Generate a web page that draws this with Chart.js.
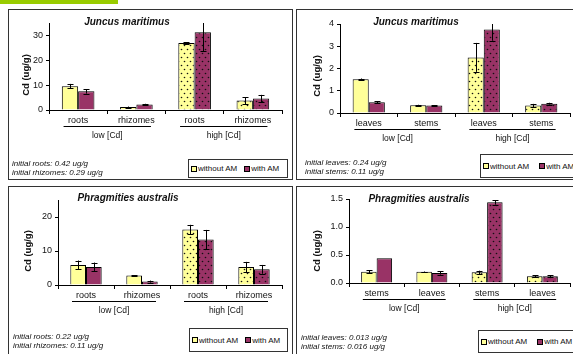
<!DOCTYPE html>
<html>
<head>
<meta charset="utf-8">
<script src="https://cdn.jsdelivr.net/npm/chart.js@4.4.0/dist/chart.umd.min.js"></script>
<style>
  body { margin: 0; width: 573px; height: 354px; overflow: hidden; background: #fff; position: relative;
         font-family: "Liberation Sans", Arial, sans-serif; color: #111; }
  .green { position: absolute; left: 0; top: 0; width: 118px; height: 4px; background: #99cc00; }
  .frame { position: absolute; box-sizing: border-box; border: 1px solid #333; }
  canvas { position: absolute; left: 0; top: 0; }
  .t { position: absolute; white-space: nowrap; transform: translate(-50%, -50%); }
  .title { font: bold italic 10px "Liberation Sans", Arial, sans-serif; }
  .ytitle { font: bold 9.5px "Liberation Sans", Arial, sans-serif; transform: translate(-50%, -50%) rotate(-90deg); }
  .note { position: absolute; font: italic 8px "Liberation Sans", Arial, sans-serif; line-height: 9px; white-space: nowrap; }
  .legend { position: absolute; box-sizing: border-box; border: 1px solid #333; background: #fff;
            font: 8px "Liberation Sans", Arial, sans-serif; display: flex; align-items: center; white-space: nowrap; }
  .sw { display: inline-block; width: 4px; height: 4px; border: 1px solid #000; margin-right: 1px; }
</style>
</head>
<body>
<div class="green"></div>
<div class="frame" style="left:8px;top:9px;width:285px;height:171px"></div>
<div class="frame" style="left:296px;top:9px;width:290px;height:171px"></div>
<div class="frame" style="left:8px;top:186px;width:285px;height:200px"></div>
<div class="frame" style="left:296px;top:186px;width:290px;height:200px"></div>

<canvas id="c1" width="573" height="354"></canvas>
<canvas id="c2" width="573" height="354"></canvas>
<canvas id="c3" width="573" height="354"></canvas>
<canvas id="c4" width="573" height="354"></canvas>

<div class="t title" style="left:127px;top:21px">Juncus maritimus</div>
<div class="t title" style="left:416px;top:21px">Juncus maritimus</div>
<div class="t title" style="left:128px;top:197px">Phragmities australis</div>
<div class="t title" style="left:419px;top:198px">Phragmities australis</div>

<div class="t ytitle" style="left:25px;top:75px">Cd (ug/g)</div>
<div class="t ytitle" style="left:316px;top:76px">Cd (ug/g)</div>
<div class="t ytitle" style="left:27px;top:251px">Cd (ug/g)</div>
<div class="t ytitle" style="left:316px;top:251px">Cd (ug/g)</div>

<div class="note" style="left:12px;top:159px">initial roots: 0.42 ug/g<br>initial rhizomes: 0.29 ug/g</div>
<div class="note" style="left:305px;top:158px">initial leaves: 0.24 ug/g<br>initial stems: 0.11 ug/g</div>
<div class="note" style="left:13px;top:332px">initial roots: 0.22 ug/g<br>initial rhizomes: 0.11 ug/g</div>
<div class="note" style="left:301px;top:333px">initial leaves: 0.013 ug/g<br>initial stems: 0.016 ug/g</div>

<div class="legend" style="left:188px;top:159px;width:100px;height:19px;padding-left:2px">
  <span class="sw" style="background:#ffff99"></span>without AM
  <span class="sw" style="background:#993366;margin-left:7px"></span>with AM
</div>
<div class="legend" style="left:480px;top:154px;width:100px;height:24px;padding-left:2px">
  <span class="sw" style="background:#ffff99"></span>without AM
  <span class="sw" style="background:#993366;margin-left:10px"></span>with AM
</div>
<div class="legend" style="left:189px;top:328px;width:99px;height:24px;padding-left:2px">
  <span class="sw" style="background:#ffff99"></span>without AM
  <span class="sw" style="background:#993366;margin-left:7px"></span>with AM
</div>
<div class="legend" style="left:478px;top:330px;width:100px;height:23px;padding-left:2px">
  <span class="sw" style="background:#ffff99"></span>without AM
  <span class="sw" style="background:#993366;margin-left:10px"></span>with AM
</div>

<script>
// --- donnees ---
const groups = ['low [Cd]', 'high [Cd]'];

// Juncus maritimus, racines / rhizomes
const jmRootCats = ['roots', 'rhizomes', 'roots', 'rhizomes'];
const jmRootWithout = [9.6, 1.2, 27.0, 3.8];
const jmRootWithoutErr = [0.9, 0.2, 0.3, 1.4];
const jmRootWith = [7.5, 2.2, 31.3, 4.6];
const jmRootWithErr = [0.9, 0.3, 7.7, 1.5];
const jmRootTicks = [0, 10, 20, 30];
const jmRootMax = 35;

// Juncus maritimus, feuilles / tiges
const jmLeafCats = ['leaves', 'stems', 'leaves', 'stems'];
const jmLeafWithout = [1.52, 0.35, 2.5, 0.34];
const jmLeafWithoutErr = [0.03, 0.02, 0.65, 0.07];
const jmLeafWith = [0.48, 0.34, 3.75, 0.42];
const jmLeafWithErr = [0.05, 0.02, 0.5, 0.04];
const jmLeafTicks = [0, 1, 2, 3, 4];
const jmLeafMax = 4;

// Phragmities australis, racines / rhizomes
const paRootCats = ['roots', 'rhizomes', 'roots', 'rhizomes'];
const paRootWithout = [5.9, 2.8, 16.3, 5.3];
const paRootWithoutErr = [1.3, 0.1, 1.4, 1.5];
const paRootWith = [5.3, 1.0, 13.4, 4.6];
const paRootWithErr = [1.3, 0.3, 2.8, 1.3];
const paRootTicks = [0, 10, 20];
const paRootMax = 25;

// Phragmities australis, tiges / feuilles
const paLeafCats = ['stems', 'leaves', 'stems', 'leaves'];
const paLeafWithout = [0.2, 0.2, 0.19, 0.12];
const paLeafWithoutErr = [0.03, 0.005, 0.03, 0.02];
const paLeafWith = [0.44, 0.18, 1.44, 0.12];
const paLeafWithErr = [0, 0.03, 0.04, 0.02];
const paLeafTicks = [0, 0.5, 1, 1.5];
const paLeafMax = 1.5;

const YELLOW = '#ffff99';
const PURPLE = '#993366';
const W = 573, H = 354;
const Y_W = 30, X_H = 20;

Chart.defaults.font.family = "'Liberation Sans', Arial, sans-serif";
Chart.defaults.color = '#111';

function dotPattern(base) {
    const c = document.createElement('canvas');
    c.width = 6; c.height = 8;
    const g = c.getContext('2d');
    g.fillStyle = base;
    g.fillRect(0, 0, 6, 8);
    g.fillStyle = '#111';
    g.beginPath(); g.arc(1.5, 1.5, 0.8, 0, Math.PI * 2); g.fill();
    g.beginPath(); g.arc(4.5, 5.5, 0.8, 0, Math.PI * 2); g.fill();
    return g.createPattern(c, 'repeat');
}
const yellowDots = dotPattern(YELLOW);
const purpleDots = dotPattern(PURPLE);

// barres d'erreur + libelles de groupes
const extras = {
    id: 'extras',
    afterDatasetsDraw(chart) {
        const ctx = chart.ctx;
        const y = chart.scales.y;
        const top = chart.chartArea.top;
        ctx.save();
        ctx.strokeStyle = '#000';
        ctx.lineWidth = 1;
        chart.data.datasets.forEach((ds, i) => {
            const meta = chart.getDatasetMeta(i);
            meta.data.forEach((bar, j) => {
                const e = ds.err[j];
                if (!e) return;
                const x = Math.round(bar.x) + 0.5;
                let y1 = y.getPixelForValue(ds.data[j] + e);
                const y2 = y.getPixelForValue(ds.data[j] - e);
                const clipped = y1 < top;
                if (clipped) y1 = top;
                ctx.beginPath();
                ctx.moveTo(x, y1); ctx.lineTo(x, y2);
                if (!clipped) { ctx.moveTo(x - 3, Math.round(y1) + 0.5); ctx.lineTo(x + 3, Math.round(y1) + 0.5); }
                ctx.moveTo(x - 3, Math.round(y2) + 0.5); ctx.lineTo(x + 3, Math.round(y2) + 0.5);
                ctx.stroke();
            });
        });
        ctx.restore();
    },
    afterDraw(chart) {
        const ctx = chart.ctx;
        const x = chart.scales.x;
        const bottom = chart.chartArea.bottom;
        const w = x.getPixelForValue(1) - x.getPixelForValue(0);
        ctx.save();
        ctx.strokeStyle = '#000';
        ctx.fillStyle = '#111';
        ctx.lineWidth = 1;
        ctx.font = "8.5px 'Liberation Sans', Arial, sans-serif";
        ctx.textAlign = 'center';
        ctx.textBaseline = 'middle';
        groups.forEach((g, k) => {
            const a = x.getPixelForValue(2 * k) - w / 4;
            const b = x.getPixelForValue(2 * k + 1) + w / 4;
            const ly = Math.round(bottom + 16) + 0.5;
            ctx.beginPath(); ctx.moveTo(a, ly); ctx.lineTo(b, ly); ctx.stroke();
            ctx.fillText(g, (a + b) / 2, bottom + 26);
        });
        ctx.restore();
    }
};

function makePanel(id, area, cats, without, withoutErr, withAm, withErr, ticks, yMax, decimals) {
    new Chart(document.getElementById(id), {
        type: 'bar',
        data: {
            labels: cats,
            datasets: [
                { label: 'without AM', data: without, err: withoutErr,
                  backgroundColor: [YELLOW, YELLOW, yellowDots, yellowDots] },
                { label: 'with AM', data: withAm, err: withErr,
                  backgroundColor: [PURPLE, PURPLE, purpleDots, purpleDots] }
            ]
        },
        options: {
            responsive: false,
            animation: false,
            events: [],
            layout: { padding: { left: area.left - Y_W, right: W - area.right, top: area.top, bottom: H - area.bottom - X_H } },
            datasets: { bar: { borderColor: '#000', borderWidth: 1, categoryPercentage: 0.56, barPercentage: 1 } },
            plugins: { legend: { display: false }, tooltip: { enabled: false } },
            scales: {
                x: {
                    afterFit: s => { s.height = X_H; },
                    grid: { drawOnChartArea: false, color: '#000', tickLength: 4, offset: true },
                    border: { color: '#000' },
                    ticks: { font: { size: 9 }, padding: 1, maxRotation: 0, autoSkip: false, color: '#111' }
                },
                y: {
                    min: 0, max: yMax,
                    afterFit: s => { s.width = Y_W; },
                    afterBuildTicks: s => { s.ticks = ticks.map(v => ({ value: v })); },
                    grid: { drawOnChartArea: false, color: '#000', tickLength: 3 },
                    border: { color: '#000' },
                    ticks: { font: { size: 9 }, padding: 3, color: '#111',
                             callback: v => v.toFixed(decimals) }
                }
            }
        },
        plugins: [extras]
    });
}

makePanel('c1', { left: 49, right: 282, top: 23, bottom: 110 }, jmRootCats,
          jmRootWithout, jmRootWithoutErr, jmRootWith, jmRootWithErr, jmRootTicks, jmRootMax, 0);
makePanel('c2', { left: 340, right: 570, top: 24, bottom: 113 }, jmLeafCats,
          jmLeafWithout, jmLeafWithoutErr, jmLeafWith, jmLeafWithErr, jmLeafTicks, jmLeafMax, 0);
makePanel('c3', { left: 58, right: 282, top: 200, bottom: 285 }, paRootCats,
          paRootWithout, paRootWithoutErr, paRootWith, paRootWithErr, paRootTicks, paRootMax, 0);
makePanel('c4', { left: 349, right: 570, top: 199, bottom: 283 }, paLeafCats,
          paLeafWithout, paLeafWithoutErr, paLeafWith, paLeafWithErr, paLeafTicks, paLeafMax, 1);
</script>
</body>
</html>
